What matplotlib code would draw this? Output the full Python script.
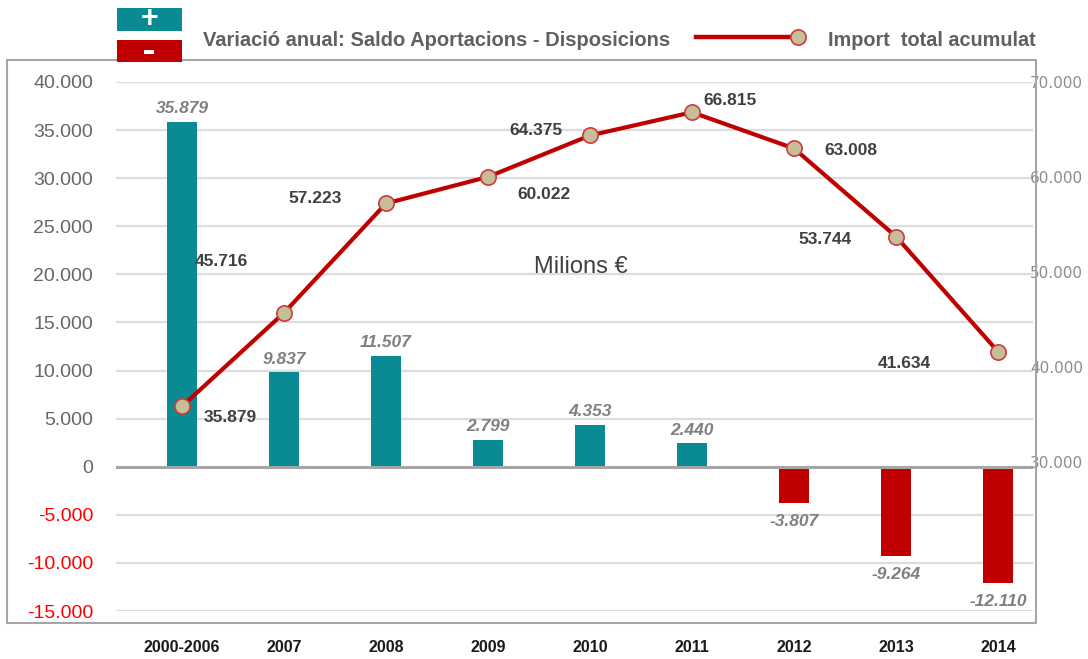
import matplotlib
matplotlib.use("Agg")
import matplotlib.pyplot as plt
from matplotlib.patches import Rectangle
from matplotlib.lines import Line2D
import numpy as np

# ---------------- data ----------------
categories = ["2000-2006", "2007", "2008", "2009", "2010", "2011", "2012", "2013", "2014"]
annual_change = [35879, 9837, 11507, 2799, 4353, 2440, -3807, -9264, -12110]
cumulative_total = [35879, 45716, 57223, 60022, 64375, 66815, 63008, 53744, 41634]
left_ticks = [-15000, -10000, -5000, 0, 5000, 10000, 15000, 20000, 25000, 30000, 35000, 40000]
right_ticks = [30000, 40000, 50000, 60000, 70000]

legend_bar_text = "Variació anual: Saldo Aportacions - Disposicions"
legend_line_text = "Import  total acumulat"
unit_text = "Milions €"

# ---------------- style ----------------
W, H = 1088, 659
TEAL = "#0A8A92"
RED = "#C00000"
GRID = "#DCDCDC"
GRAY_TXT = "#606060"
LBL_DARK = "#404040"
SANS = ["Liberation Sans", "DejaVu Sans"]


def fmt(v):
    return f"{v:,}".replace(",", ".")


def fx(px):
    return px / W


def fy(py):
    return 1 - py / H


fig = plt.figure(figsize=(W / 100, H / 100), dpi=100)
fig.patch.set_facecolor("white")

ax = fig.add_axes([fx(116), fy(611), (1033 - 116) / W, (611 - 82) / H])
x = np.arange(len(categories))
ax.set_xlim(-0.647, 8.343)
ax.set_ylim(-15000, 40000)

bar_colors = [TEAL if v >= 0 else RED for v in annual_change]
ax.bar(x, annual_change, width=0.30, color=bar_colors, zorder=3)

for t in left_ticks:
    if t != 0:
        ax.axhline(t, color=GRID, lw=1.6, zorder=1)
ax.axhline(0, color="#A6A6A6", lw=2.2, zorder=4)

for s in ax.spines.values():
    s.set_visible(False)

ax.set_yticks(left_ticks)
ax.set_yticklabels([fmt(t) for t in left_ticks], family=SANS, fontsize=14)
for lab, t in zip(ax.get_yticklabels(), left_ticks):
    lab.set_color("#FF0000" if t < 0 else "#666666")
ax.tick_params(axis="y", length=0, pad=16.5)

ax.set_xticks(x)
ax.set_xticklabels(categories, family=["Liberation Sans Narrow", "Liberation Sans", "DejaVu Sans"],
                   fontsize=11.5, fontweight="bold", color="#1A1A1A")
ax.tick_params(axis="x", length=0, pad=21)

# bar value labels
for xi, v in zip(x, annual_change):
    if v >= 0:
        ax.annotate(fmt(v), (xi, v), xytext=(0, 4), textcoords="offset points",
                    ha="center", va="bottom", fontsize=12.5, style="italic", fontweight="bold",
                    family=SANS, color="#808080", zorder=6)
    else:
        ax.annotate(fmt(v), (xi, v), xytext=(0, -8), textcoords="offset points",
                    ha="center", va="top", fontsize=12.5, style="italic", fontweight="bold",
                    family=SANS, color="#808080", zorder=6)

# secondary axis with cumulative line
ax2 = ax.twinx()
OFFSET = 29350
ax2.set_ylim(-15000 + OFFSET, 40000 + OFFSET)
ax2.set_xlim(ax.get_xlim())
for s in ax2.spines.values():
    s.set_visible(False)
ax2.set_yticks(right_ticks)
ax2.set_yticklabels([fmt(t) for t in right_ticks], family=["DejaVu Sans"], fontsize=11,
                    color="#8C8C8C")
ax2.tick_params(axis="y", length=0, pad=-2)

ax2.plot(x, cumulative_total, color=RED, lw=3, zorder=5,
         marker="o", markersize=11, markerfacecolor="#C6BE98",
         markeredgecolor="#D03A3A", markeredgewidth=1.2)

label_offsets_px = [(48, -11), (-63, 51), (-71, 5), (56, -18), (-54, 5),
                    (38, 12), (57, -2), (-71, -3), (-94, -12)]
for xi, v, (dx, dy) in zip(x, cumulative_total, label_offsets_px):
    ax2.annotate(fmt(v), (xi, v), xytext=(dx * 0.72, dy * 0.72), textcoords="offset points",
                 ha="center", va="center", fontsize=12.5, fontweight="bold",
                 family=SANS, color=LBL_DARK, zorder=7)

fig.text(fx(581), fy(267), unit_text, ha="center", va="center", fontsize=17,
         family=SANS, color=LBL_DARK)

# frame around chart
fig.patches.append(Rectangle((fx(7), fy(623)), (1036 - 7) / W, (623 - 60) / H,
                             transform=fig.transFigure, fill=False,
                             edgecolor="#A6A6A6", lw=1.5, zorder=0))

# legend (top)
fig.patches.append(Rectangle((fx(117), fy(31)), 65 / W, 23 / H, transform=fig.transFigure,
                             facecolor=TEAL, edgecolor="none", zorder=5))
fig.patches.append(Rectangle((fx(117), fy(62)), 65 / W, 22 / H, transform=fig.transFigure,
                             facecolor=RED, edgecolor="none", zorder=5))
fig.text(fx(149.5), fy(19), "+", ha="center", va="center", fontsize=22, fontweight="bold",
         color="white", family=SANS, zorder=6)
fig.patches.append(Rectangle((fx(144), fy(54)), 10 / W, 4 / H, transform=fig.transFigure,
                             facecolor="white", edgecolor="none", zorder=6))
fig.text(fx(203), fy(40), legend_bar_text, ha="left", va="center", fontsize=14.5,
         fontweight="bold", color=GRAY_TXT, family=SANS)
fig.lines.append(Line2D([fx(696), fx(795)], [fy(37), fy(37)], transform=fig.transFigure,
                        color=RED, lw=3.2))
fig.lines.append(Line2D([fx(798)], [fy(37)], transform=fig.transFigure, marker="o",
                        markersize=11, markerfacecolor="#C6BE98", markeredgecolor="#D03A3A",
                        markeredgewidth=1.2, linestyle="none"))
fig.text(fx(828), fy(40), legend_line_text, ha="left", va="center", fontsize=14.3,
         fontweight="bold", color=GRAY_TXT, family=SANS)

fig.savefig("out.png", dpi=100)
